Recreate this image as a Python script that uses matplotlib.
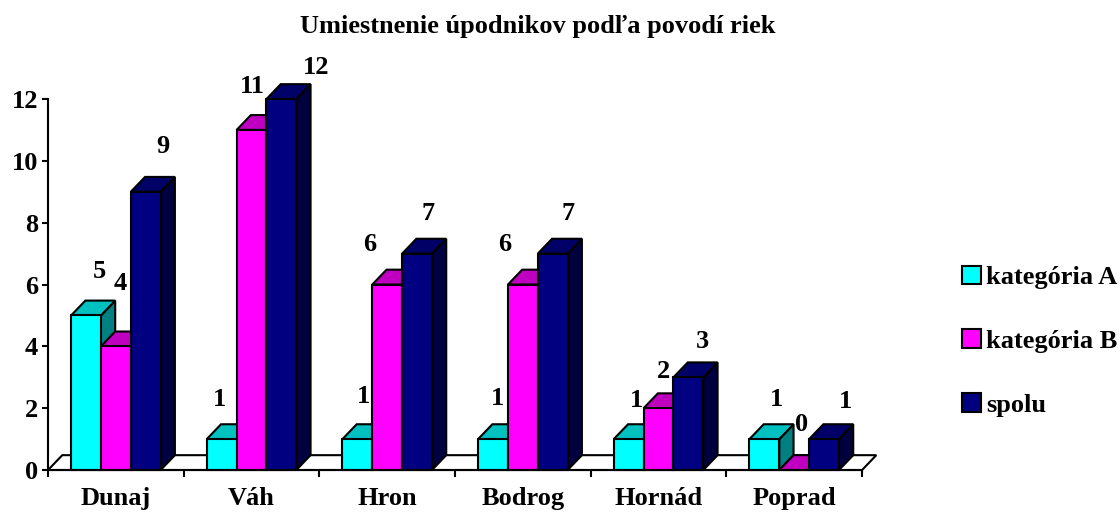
import matplotlib
matplotlib.use("Agg")
import matplotlib.pyplot as plt
from matplotlib.patches import Polygon, Patch

# data
rivers = ["Dunaj", "Váh", "Hron", "Bodrog", "Hornád", "Poprad"]
kat_a = [5, 1, 1, 1, 1, 1]
kat_b = [4, 11, 6, 6, 2, 0]
spolu = [9, 12, 7, 7, 3, 1]
series_names = ["kategória A", "kategória B", "spolu"]

# label nudges in pixels (dx, dy) relative to the bar top
nudge_a = [(13, 44), (-2, 40), (6, 43), (4, 41), (8, 39), (12, 40)]
nudge_b = [(4, 63), (1, 43), (-18, 40), (-18, 40), (5, 37), (7, 46)]
nudge_s = [(17, 45), (35, 32), (11, 40), (15, 40), (14, 36), (21, 38)]

# front / top / side colours
colors = [("#00FFFF", "#00C0C0", "#008080"),
          ("#FF00FF", "#C000C0", "#800080"),
          ("#000080", "#000066", "#000040")]

plt.rcParams['font.family'] = ['Liberation Serif', 'DejaVu Serif']
plt.rcParams['font.weight'] = 'bold'
FS = 19

fig = plt.figure(figsize=(11.2, 5.13), dpi=100)
ax = fig.add_axes([0.0429, 0.0838, 0.7268, 0.7232])
ax.set_xlim(0, len(rivers))
ax.set_ylim(0, 12)

DX, DY = 0.105, 0.48   # depth offset in data units
W = 0.22               # bar width
LW = 1.5

# floor
n = len(rivers)
ax.add_patch(Polygon([(0, 0), (n, 0), (n + DX, DY), (DX, DY)], closed=True,
                     facecolor="white", edgecolor="black", lw=LW, clip_on=False, zorder=1))

all_series = [kat_a, kat_b, spolu]
nudges = [nudge_a, nudge_b, nudge_s]
z = 2
for i in range(n):
    for s, vals in enumerate(all_series):
        v = vals[i]
        x0 = i + 0.5 + (s - 1) * W - W / 2
        x1 = x0 + W
        front_c, top_c, side_c = colors[s]
        side = Polygon([(x1, 0), (x1 + DX, DY), (x1 + DX, v + DY), (x1, v)], closed=True,
                       facecolor=side_c, edgecolor="black", lw=LW, clip_on=False, zorder=z)
        top = Polygon([(x0, v), (x1, v), (x1 + DX, v + DY), (x0 + DX, v + DY)], closed=True,
                      facecolor=top_c, edgecolor="black", lw=LW, clip_on=False, zorder=z)
        ax.add_patch(side)
        ax.add_patch(top)
        if v > 0:
            front = Polygon([(x0, 0), (x1, 0), (x1, v), (x0, v)], closed=True,
                            facecolor=front_c, edgecolor="black", lw=LW, clip_on=False, zorder=z)
            ax.add_patch(front)
        z += 1
        dx, dy = nudges[s][i]
        ax.annotate(str(v), xy=(x0 + W / 2, v), xytext=(dx, dy), textcoords="offset pixels",
                    ha="center", va="center", fontsize=FS, fontweight="bold",
                    annotation_clip=False, zorder=100)

for sp in ["top", "right"]:
    ax.spines[sp].set_visible(False)
ax.spines["left"].set_linewidth(LW)
ax.spines["bottom"].set_linewidth(LW)
ax.spines["left"].set_zorder(50)
ax.spines["bottom"].set_zorder(50)

ax.set_yticks(range(0, 13, 2))
ax.set_xticks(range(0, n + 1))
ax.set_xticklabels([])
ax.set_xticks([i + 0.5 for i in range(n)], minor=True)
ax.set_xticklabels(rivers, minor=True)
ax.tick_params(axis="x", which="minor", length=0, pad=12, labelsize=FS)
ax.tick_params(axis="x", which="major", length=5, width=LW, direction="out")
ax.tick_params(axis="y", length=4, width=LW, labelsize=FS, pad=3)
for lab in ax.get_xticklabels(minor=True) + ax.get_yticklabels():
    lab.set_fontweight("bold")

fig.text(0.48, 0.949, "Umiestnenie úpodnikov podľa povodí riek", ha="center", va="center",
         fontsize=FS, fontweight="bold")

handles = [Patch(facecolor=c[0], edgecolor="black", lw=LW) for c in colors]
fig.legend(handles, series_names, loc="center left", bbox_to_anchor=(0.838, 0.335),
           frameon=False, handlelength=0.7, handleheight=0.7,
           handletextpad=0.2, labelspacing=1.53, prop={"weight": "bold", "size": FS})

fig.savefig("out.png", dpi=100)
